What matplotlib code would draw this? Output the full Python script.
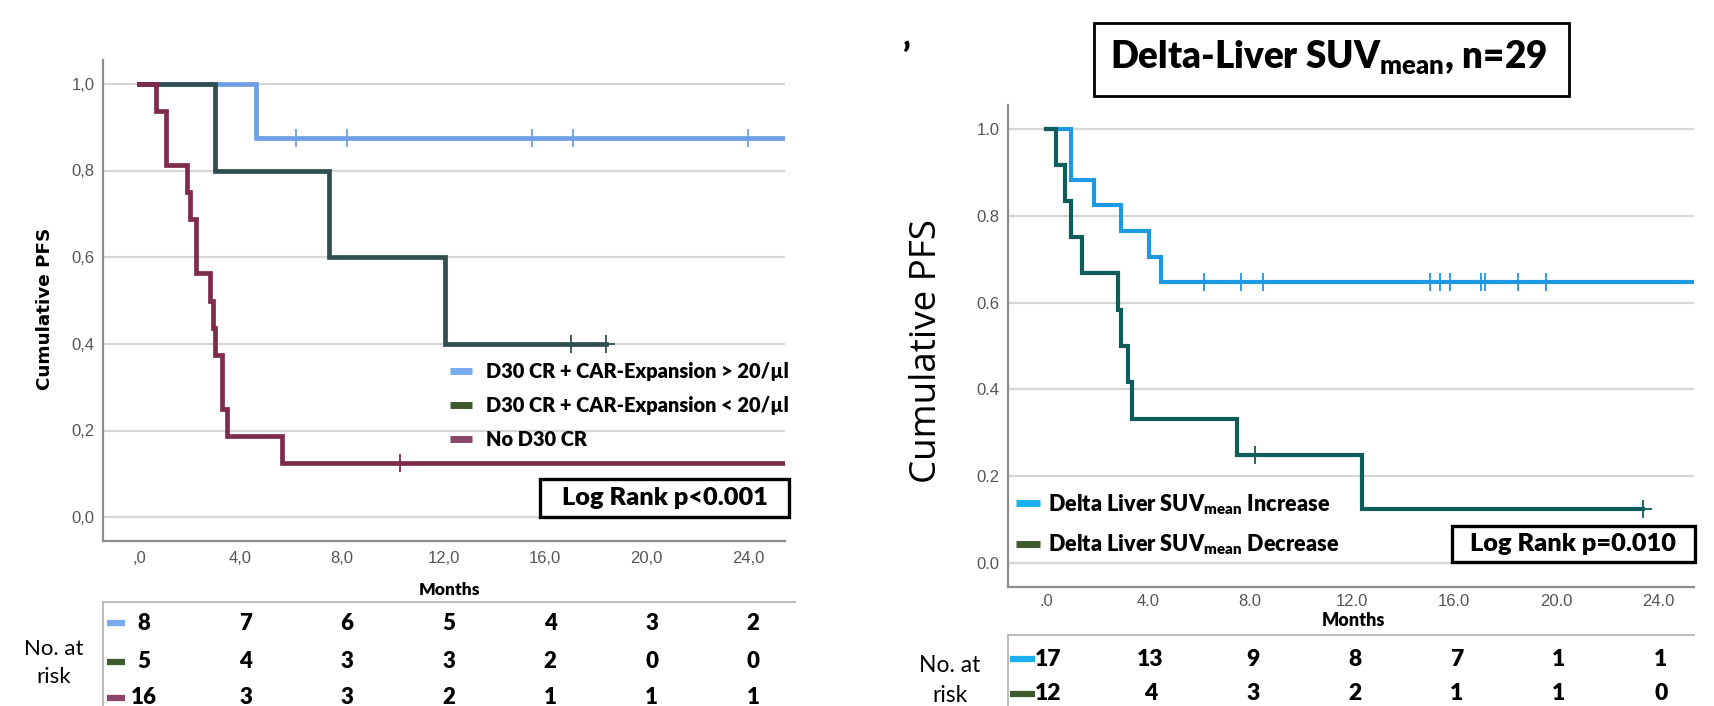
import numpy as np
import matplotlib
matplotlib.use('Agg')
import matplotlib.pyplot as plt
from matplotlib.lines import Line2D
from matplotlib.patches import Rectangle
import matplotlib.transforms as mtransforms

plt.rcParams['font.family'] = ['Lato', 'DejaVu Sans']
plt.rcParams['mathtext.fontset'] = 'custom'
plt.rcParams['mathtext.bf'] = 'Lato:weight=heavy'
plt.rcParams['mathtext.rm'] = 'Lato'

W, H = 1715, 706
HEAVY = 'heavy'

# ---- left panel data (D30 response) ----
L_labels = ['D30 CR + CAR-Expansion > 20/µl', 'D30 CR + CAR-Expansion < 20/µl', 'No D30 CR']
L_blue_t = [0, 4.6]
L_blue_s = [1.0, 0.875]
L_blue_cens = [6.2, 8.2, 15.5, 17.1, 24.0]
L_green_t = [0, 3.0, 7.5, 12.05]
L_green_s = [1.0, 0.8, 0.6, 0.4]
L_green_cens = [17.0, 18.4]
L_red_t = [0, 0.65, 1.05, 1.9, 2.0, 2.26, 2.81, 2.91, 3.01, 3.27, 3.47, 5.64]
L_red_s = [1.0, 0.9375, 0.8125, 0.75, 0.6875, 0.5625, 0.5, 0.4375, 0.375, 0.25, 0.1875, 0.125]
L_red_cens = [10.3]
L_risk = [[8, 7, 6, 5, 4, 3, 2],
          [5, 4, 3, 3, 2, 0, 0],
          [16, 3, 3, 2, 1, 1, 1]]
L_xticklabels = [',0', '4,0', '8,0', '12,0', '16,0', '20,0', '24,0']
L_yticklabels = ['0,0', '0,2', '0,4', '0,6', '0,8', '1,0']

# ---- right panel data (Delta liver SUVmean) ----
R_labels = ['Delta Liver SUV$_{\\mathbf{mean}}$ Increase', 'Delta Liver SUV$_{\\mathbf{mean}}$ Decrease']
R_blue_t = [0, 0.99, 1.9, 2.93, 4.02, 4.5]
R_blue_s = [1.0, 0.882, 0.824, 0.765, 0.706, 0.647]
R_blue_cens = [6.2, 7.65, 8.5, 15.05, 15.45, 15.85, 17.05, 17.2, 18.5, 19.6]
R_teal_t = [0, 0.41, 0.73, 0.98, 1.4, 2.82, 2.93, 3.2, 3.39, 7.48, 12.37]
R_teal_s = [1.0, 0.917, 0.833, 0.75, 0.667, 0.583, 0.5, 0.417, 0.333, 0.25, 0.125]
R_teal_cens = [8.2, 23.4]
R_risk = [[17, 13, 9, 8, 7, 1, 1],
          [12, 4, 3, 2, 1, 1, 0]]
R_xticklabels = ['.0', '4.0', '8.0', '12.0', '16.0', '20.0', '24.0']
R_yticklabels = ['0.0', '0.2', '0.4', '0.6', '0.8', '1.0']

xticks = [0, 4, 8, 12, 16, 20, 24]
yticks = [0, 0.2, 0.4, 0.6, 0.8, 1.0]


def fx(px):
    return px / W


def fy(py):
    return 1 - py / H


def km(ax, t, s, cens, color, end, lw):
    t = list(t) + [end]
    s = list(s) + [s[-1]]
    ax.step(t, s, where='post', color=color, lw=lw, solid_joinstyle='miter', zorder=3)
    cs = [s[np.searchsorted(t, c, side='right') - 1] for c in cens]
    ax.plot(cens, cs, ls='none', marker='+', ms=13, mew=1.3, color=color, zorder=4)


def style(ax, xl, yl, xpad, xlim):
    ax.set_xlim(*xlim)
    ax.set_ylim(-0.055, 1.055)
    ax.set_xticks(xticks)
    ax.set_xticklabels(xl)
    ax.set_yticks(yticks)
    ax.set_yticklabels(yl)
    for sp in ['top', 'right']:
        ax.spines[sp].set_visible(False)
    for sp in ['left', 'bottom']:
        ax.spines[sp].set_color('#8c8c8c')
        ax.spines[sp].set_linewidth(1.6)
    ax.tick_params(length=0, labelsize=12, labelcolor='#555555')
    for lab in ax.get_xticklabels() + ax.get_yticklabels():
        lab.set_family('Liberation Sans')
    ax.tick_params(axis='x', pad=xpad)
    ax.tick_params(axis='y', pad=6)
    ax.yaxis.grid(True, color='#d6d6d6', lw=1.6)
    ax.set_axisbelow(True)


fig = plt.figure(figsize=(W / 100, H / 100), dpi=100)

# ================= left panel =================
axL = fig.add_axes([fx(103), fy(541), fx(682), 481 / H])
style(axL, L_xticklabels, L_yticklabels, 7, (-1.42, 25.45))
km(axL, L_blue_t, L_blue_s, L_blue_cens, '#6f9fe4', 26, 3.4)
km(axL, L_green_t, L_green_s, L_green_cens, '#2f4e4d', 18.4, 3.4)
km(axL, L_red_t, L_red_s, L_red_cens, '#7e2b4c', 26, 3.4)
fig.text(fx(45), fy(309), 'Cumulative PFS', rotation=90, ha='center', va='center',
         family='DejaVu Sans', fontweight='bold', fontsize=13.2)

L_sw = ['#78aaf0', '#3f5a2c', '#8a4466']
hL = [Line2D([], [], color=c, lw=5, solid_capstyle='butt') for c in L_sw]
axL.legend(hL, L_labels, loc='upper left', bbox_to_anchor=(0.509, 0.372), frameon=False,
           borderpad=0, borderaxespad=0, handlelength=1.1, handletextpad=0.7, labelspacing=0.75,
           prop={'weight': HEAVY, 'size': 14.4})

fig.add_artist(Rectangle((fx(540), fy(517)), fx(249), 38 / H, transform=fig.transFigure,
                         fill=False, ec='black', lw=2.4))
fig.text(fx(665), fy(498), 'Log Rank p<0.001', ha='center', va='center', fontsize=18.3, fontweight=HEAVY)

fig.text(fx(450), fy(590), 'Months', ha='center', va='center', fontsize=12.5, fontweight=HEAVY)

# at-risk table left
trL = mtransforms.blended_transform_factory(axL.transData, fig.transFigure)
fig.add_artist(Line2D([fx(103), fx(795)], [fy(602), fy(602)], transform=fig.transFigure, color='#b5b5b5', lw=1.3))
fig.add_artist(Line2D([fx(103), fx(103)], [fy(602), 0], transform=fig.transFigure, color='#b5b5b5', lw=1.3))
fig.text(fx(54), fy(649), 'No. at', ha='center', va='center', fontsize=16)
fig.text(fx(54), fy(677), 'risk', ha='center', va='center', fontsize=16)
rowsL = [623, 662, 698]
for r, yy in enumerate(rowsL):
    fig.add_artist(Line2D([fx(107), fx(125)], [fy(yy), fy(yy)], transform=fig.transFigure,
                          color=L_sw[r], lw=4.5, solid_capstyle='butt'))
    for xv, v in zip(xticks, L_risk[r]):
        fig.text(xv + 0.2, fy(yy), str(v), transform=trL, ha='center', va='center',
                 fontsize=16, fontweight=HEAVY)

# ================= right panel =================
axR = fig.add_axes([fx(1008), fy(587), fx(686), 482 / H])
style(axR, R_xticklabels, R_yticklabels, 5, (-1.49, 25.4))
km(axR, R_blue_t, R_blue_s, R_blue_cens, '#1d98e2', 26, 3.0)
km(axR, R_teal_t, R_teal_s, R_teal_cens, '#0f5d5b', 23.4, 3.0)
fig.text(fx(927), fy(351), 'Cumulative PFS', rotation=90, ha='center', va='center',
         family='Open Sans', fontsize=26.5)

R_sw = ['#1ab0f0', '#3f5a2c']
hR = [Line2D([], [], color=c, lw=5, solid_capstyle='butt') for c in R_sw]
axR.legend(hR, R_labels, loc='upper left', bbox_to_anchor=(0.012, 0.197), frameon=False,
           borderpad=0, borderaxespad=0, handlelength=1.1, handletextpad=0.35, labelspacing=0.72,
           prop={'weight': HEAVY, 'size': 15.6})

fig.add_artist(Rectangle((fx(1452), fy(562)), fx(243), 36 / H, transform=fig.transFigure,
                         fill=False, ec='black', lw=2.4))
fig.text(fx(1573), fy(544), 'Log Rank p=0.010', ha='center', va='center', fontsize=18.3, fontweight=HEAVY)

fig.add_artist(Rectangle((fx(1094), fy(96)), fx(475), 73 / H, transform=fig.transFigure,
                         fill=False, ec='black', lw=2.0))
fig.text(fx(1110), fy(58), 'Delta-Liver SUV$_{\\mathbf{mean}}$, n=29', ha='left', va='center',
         fontsize=26.5, fontweight=HEAVY)
fig.text(fx(907), fy(57), '\u2019', ha='center', va='center', fontsize=24, fontweight=HEAVY)

fig.text(fx(1353), fy(620), 'Months', ha='center', va='center', fontsize=13, fontweight=HEAVY)

trR = mtransforms.blended_transform_factory(axR.transData, fig.transFigure)
fig.add_artist(Line2D([fx(1008), fx(1694)], [fy(635), fy(635)], transform=fig.transFigure, color='#b5b5b5', lw=1.3))
fig.add_artist(Line2D([fx(1008), fx(1008)], [fy(635), 0], transform=fig.transFigure, color='#b5b5b5', lw=1.3))
fig.text(fx(950), fy(665), 'No. at', ha='center', va='center', fontsize=16.5)
fig.text(fx(950), fy(695), 'risk', ha='center', va='center', fontsize=16.5)
rowsR = [659, 694]
for r, yy in enumerate(rowsR):
    fig.add_artist(Line2D([fx(1010), fx(1035)], [fy(yy), fy(yy)], transform=fig.transFigure,
                          color=R_sw[r], lw=4.5, solid_capstyle='butt'))
    for xv, v in zip(xticks, R_risk[r]):
        fig.text(xv + 0.1, fy(yy), str(v), transform=trR, ha='center', va='center',
                 fontsize=16.5, fontweight=HEAVY)

fig.savefig('out.png', dpi=100)
